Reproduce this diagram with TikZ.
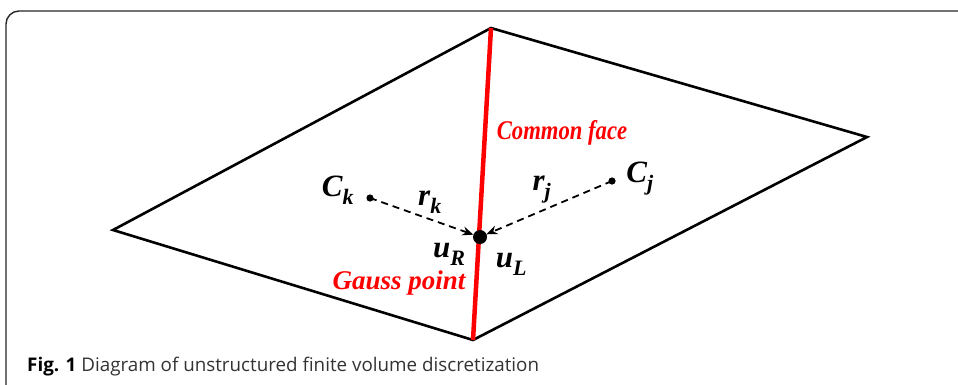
\documentclass[tikz,border=0pt]{standalone}
\usepackage{fontspec}
\setmainfont{Liberation Serif}
\newfontfamily\capfont{Open Sans}
\usetikzlibrary{arrows.meta}
\definecolor{capgray}{HTML}{333333}
\tikzset{
  edge/.style={line width=2.6pt, line join=miter},
  face/.style={red, line width=4.5pt},
  vec/.style={line width=1.8pt, dash pattern=on 7pt off 5pt, -{Stealth[length=11pt,width=9pt]}, shorten >=7pt},
  lab/.style={font=\fontsize{31}{34}\selectfont\bfseries\itshape, inner sep=0pt},
  redlab/.style={red, font=\fontsize{27}{30}\selectfont\bfseries\itshape, inner sep=0pt},
}
\newcommand{\lsub}[2]{#1\rlap{\raisebox{-8pt}{\fontsize{22}{24}\selectfont #2}}\phantom{#2}}
\begin{document}
\begin{tikzpicture}[x=1pt,y=-1pt]
\useasboundingbox (0,0) rectangle (958,384);
% frame
\draw[line width=1.4pt, black!85] (6,392) -- (6,24) arc[start angle=180,end angle=270,radius=13] -- (966,11);
% cell vertices
\coordinate (T) at (491,28);
\coordinate (L) at (113,230);
\coordinate (R) at (867,137);
\coordinate (B) at (473,340);
\draw[edge] (T) -- (L) -- (B) -- (R) -- cycle;
\draw[face] (T) -- (B);
% points
\coordinate (G) at (480,237);
\coordinate (Ck) at (370,198);
\coordinate (Cj) at (612,181);
\fill (G) circle (7);
\fill (Ck) circle (3.6);
\fill (Cj) circle (3.6);
\draw[vec] (Ck) -- (G);
\draw[vec] (Cj) -- (G);
% labels
\node[lab] (lck) at (340,190) {\lsub{C}{k}};
\node[lab] (lrk) at (432,199) {\lsub{r}{k}};
\node[lab] (lrj) at (543,186) {\lsub{r}{j}};
\node[lab] (lcj) at (641,178) {\lsub{C}{j}};
\node[lab] (lur) at (452,251) {\lsub{u}{R}};
\node[lab] (lul) at (514,261) {\lsub{u}{L}};
\node[redlab] (cf) at (562,133) {\scalebox{0.84}[1]{Common face}};
\node[redlab] (gp) at (399,283) {Gauss point};
% caption
\node[anchor=west, inner sep=0pt, font=\capfont\fontsize{18.8}{22}\selectfont] (cap) at (27,367)
  {\textbf{Fig. 1}\ \textcolor{capgray}{Diagram of unstructured finite volume discretization}};
\end{tikzpicture}
\end{document}
